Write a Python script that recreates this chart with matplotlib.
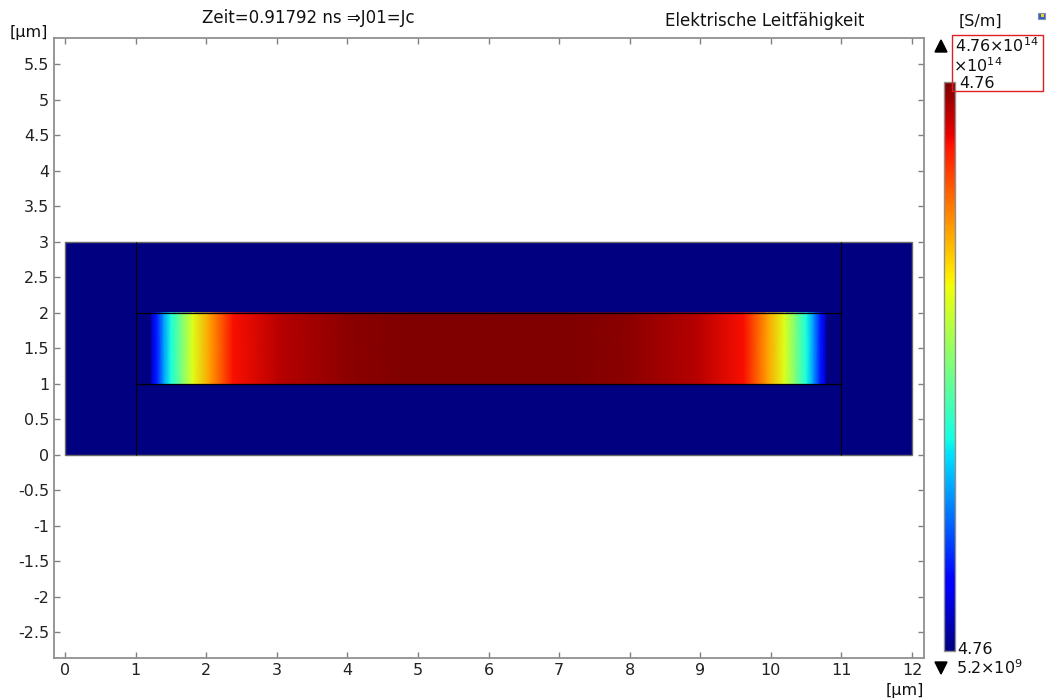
import numpy as np
import matplotlib
matplotlib.use("Agg")
import matplotlib.pyplot as plt
from matplotlib.patches import Rectangle, Polygon
import matplotlib.colors as mcolors
import matplotlib.colorbar as mcolorbar

plt.rcParams['font.family'] = ['DejaVu Sans']
plt.rcParams['axes.unicode_minus'] = False
plt.rcParams['mathtext.fontset'] = 'dejavusans'

# ---- data ----
title_left = "Zeit=0.91792 ns \u21d2J01=Jc"
title_right = "Elektrische Leitfähigkeit"
unit_len = "[\u03bcm]"
unit_cb = "[S/m]"
sigma_min = 5.2e9       # S/m
sigma_max = 4.76e14     # S/m

# domain (μm)
domain_x = [0, 12]
domain_y = [0, 3]
inner_vlines_x = [1, 11]
inner_hlines_y = [1, 2]
band_y = [1, 2]
# conductivity profile along the band (x in μm, sigma in 1e14 S/m)
band_x = [1.23, 1.30, 1.40, 1.50, 1.65, 1.81, 2.05, 2.38, 3.05, 4.0, 4.8, 6.0,
          7.2, 8.0, 8.95, 9.62, 9.95, 10.19, 10.35, 10.50, 10.60, 10.70, 10.77]
band_sigma = [0.38, 0.71, 1.33, 1.81, 2.38, 2.95, 3.52, 4.24, 4.52, 4.69, 4.76, 4.76,
              4.76, 4.69, 4.52, 4.24, 3.52, 2.95, 2.38, 1.81, 1.33, 0.71, 0.38]

xticks = list(range(0, 13))
yticks = [-2.5, -2, -1.5, -1, -0.5, 0, 0.5, 1, 1.5, 2, 2.5, 3, 3.5, 4, 4.5, 5, 5.5]

# ---- figure ----
fig = plt.figure(figsize=(10.5, 7), dpi=100)
ax = fig.add_axes([54/1050, 42/700, 870/1050, 620/700])

cmap = plt.get_cmap('jet')
vmin, vmax = sigma_min / 1e14, sigma_max / 1e14
norm = mcolors.Normalize(vmin=vmin, vmax=vmax)

# background domain at minimum conductivity
X0, Y0 = np.meshgrid(domain_x, domain_y)
ax.pcolormesh(X0, Y0, np.full((1, 1), vmin), cmap=cmap, norm=norm, shading='flat')

# conducting band
BX, BY = np.meshgrid(band_x, band_y)
BC = np.vstack([band_sigma, band_sigma])
ax.pcolormesh(BX, BY, BC, cmap=cmap, norm=norm, shading='gouraud')

# geometry lines
ax.add_patch(Rectangle((domain_x[0], domain_y[0]), domain_x[1] - domain_x[0],
                       domain_y[1] - domain_y[0], fill=False, edgecolor='#6a6a6a', lw=1.0))
for xv in inner_vlines_x:
    ax.plot([xv, xv], domain_y, color='black', lw=0.8, solid_capstyle='butt')
for yv in inner_hlines_y:
    ax.plot(inner_vlines_x, [yv, yv], color='black', lw=0.9, solid_capstyle='butt')

ax.set_xlim(-0.156, 12.17)
ax.set_ylim(-2.86, 5.87)
ax.set_xticks(xticks)
ax.set_xticklabels([f"{t:g}" for t in xticks])
ax.set_yticks(yticks)
ax.set_yticklabels([f"{t:g}" for t in yticks])
ax.tick_params(direction='in', top=True, right=True, length=4, color='#808080',
               labelsize=11.5, labelcolor='#222222', width=1)
for s in ax.spines.values():
    s.set_color('#909090')
    s.set_linewidth(1.3)

# texts
fig.text(308/1050, 1 - 18/700, title_left, ha='center', va='center', fontsize=12, color='#111111')
fig.text(765/1050, 1 - 21/700, title_right, ha='center', va='center', fontsize=12, color='#111111')
fig.text(29/1050, 1 - 32/700, unit_len, ha='center', va='center', fontsize=11.5, color='#111111')
fig.text(905/1050, 1 - 690/700, unit_len, ha='center', va='center', fontsize=11.5, color='#111111')
fig.text(980/1050, 1 - 21/700, unit_cb, ha='center', va='center', fontsize=11.5, color='#111111')

# colorbar
cax = fig.add_axes([944/1050, 1 - 651/700, 11/1050, 569/700])
cb = mcolorbar.ColorbarBase(cax, cmap=cmap, norm=norm, orientation='vertical')
cb.set_ticks([])
cb.outline.set_edgecolor('#909090')
cb.outline.set_linewidth(1.0)

# triangles
fig.patches.append(Polygon([[935/1050, 1 - 52/700], [947/1050, 1 - 52/700], [941/1050, 1 - 40/700]],
                           closed=True, transform=fig.transFigure, color='black'))
fig.patches.append(Polygon([[935/1050, 1 - 662/700], [947/1050, 1 - 662/700], [941/1050, 1 - 674/700]],
                           closed=True, transform=fig.transFigure, color='black'))

fs = 11.5
fig.text(955/1050, 1 - 46/700, r"4.76$\times$10$^{14}$", ha='left', va='center', fontsize=fs, color='#111111')
fig.text(953/1050, 1 - 66/700, r"$\times$10$^{14}$", ha='left', va='center', fontsize=fs, color='#111111')
fig.text(959/1050, 1 - 84/700, "4.76", ha='left', va='center', fontsize=fs, color='#111111')
fig.text(957/1050, 1 - 650/700, "4.76", ha='left', va='center', fontsize=fs, color='#111111')
fig.text(956/1050, 1 - 668/700, r"5.2$\times$10$^{9}$", ha='left', va='center', fontsize=fs, color='#111111')

# red highlight box
fig.patches.append(Rectangle((952/1050, 1 - 91/700), 91/1050, 56/700, transform=fig.transFigure,
                             fill=False, edgecolor='#e02020', lw=1.0))
# small icon
fig.patches.append(Rectangle((1038/1050, 1 - 19/700), 7/1050, 6/700, transform=fig.transFigure,
                             facecolor='#3060c0', edgecolor='#8090b0', lw=0.8))
fig.patches.append(Rectangle((1041/1050, 1 - 17/700), 3/1050, 3/700, transform=fig.transFigure,
                             facecolor='#f0d020', edgecolor='none'))

fig.savefig("out.png", dpi=100)
